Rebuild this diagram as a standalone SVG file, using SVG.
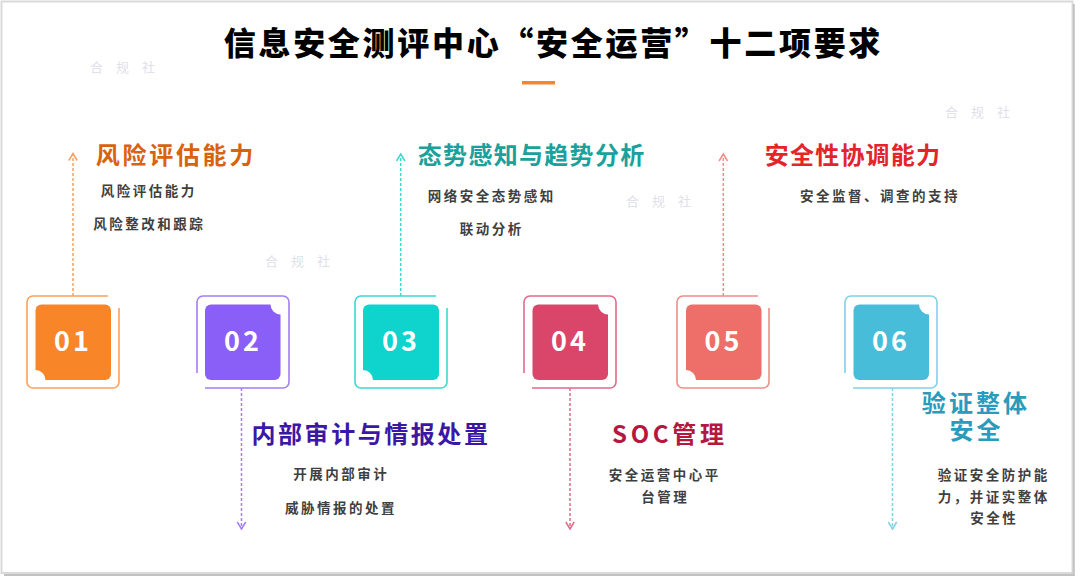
<svg xmlns="http://www.w3.org/2000/svg" width="1080" height="581" viewBox="0 0 1080 581">
<style>
text{font-family:"Noto Sans CJK SC","Noto Sans",sans-serif}
.frame{fill:none;stroke-width:1.6}
.num{font-size:27px;font-weight:700;fill:#fff;text-anchor:middle;letter-spacing:3px}
.ttl{font-size:24px;font-weight:700}
.sub{font-size:13.5px;font-weight:700;fill:#3f3f3f;text-anchor:middle;letter-spacing:2.5px}
.wm{font-size:13px;fill:#dfe0ea;letter-spacing:13px}
.arr{fill:none;stroke-width:1.5;stroke-dasharray:3 2}
.notch{fill:#fff}
</style>
<defs>
<marker id="a1" markerUnits="userSpaceOnUse" markerWidth="12" markerHeight="12" refX="8" refY="6" orient="auto" overflow="visible"><path d="M1,1.8 L8,6 L1,10.2" fill="none" stroke="#F9A15E" stroke-width="1.5"/></marker>
<marker id="a2" markerUnits="userSpaceOnUse" markerWidth="12" markerHeight="12" refX="8" refY="6" orient="auto" overflow="visible"><path d="M1,1.8 L8,6 L1,10.2" fill="none" stroke="#A47EF8" stroke-width="1.5"/></marker>
<marker id="a3" markerUnits="userSpaceOnUse" markerWidth="12" markerHeight="12" refX="8" refY="6" orient="auto" overflow="visible"><path d="M1,1.8 L8,6 L1,10.2" fill="none" stroke="#3DD8D4" stroke-width="1.5"/></marker>
<marker id="a4" markerUnits="userSpaceOnUse" markerWidth="12" markerHeight="12" refX="8" refY="6" orient="auto" overflow="visible"><path d="M1,1.8 L8,6 L1,10.2" fill="none" stroke="#E2698A" stroke-width="1.5"/></marker>
<marker id="a5" markerUnits="userSpaceOnUse" markerWidth="12" markerHeight="12" refX="8" refY="6" orient="auto" overflow="visible"><path d="M1,1.8 L8,6 L1,10.2" fill="none" stroke="#F08D88" stroke-width="1.5"/></marker>
<marker id="a6" markerUnits="userSpaceOnUse" markerWidth="12" markerHeight="12" refX="8" refY="6" orient="auto" overflow="visible"><path d="M1,1.8 L8,6 L1,10.2" fill="none" stroke="#80D0E6" stroke-width="1.5"/></marker>
<path id="fOdd" d="M81,0 H6 A6,6 0 0 0 0,6 V86 A6,6 0 0 0 6,92 H86 A6,6 0 0 0 92,86 V12"/>
<path id="fEven" d="M0,77 V6 A6,6 0 0 1 6,0 H86 A6,6 0 0 1 92,6 V86 A6,6 0 0 1 86,92 H8"/>
</defs>

<g id="card">
<rect x="1.5" y="1.5" width="1071" height="571.5" fill="#fff" stroke="#dadada" stroke-width="2"/>
<line x1="1073.8" y1="4" x2="1073.8" y2="575.5" stroke="#c2c2c2" stroke-width="2"/>
<line x1="4" y1="575" x2="1074.8" y2="575" stroke="#c2c2c2" stroke-width="2"/>
</g>

<g id="watermarks">
<text class="wm" x="90" y="72">合规社</text>
<text class="wm" x="265" y="266">合规社</text>
<text class="wm" x="626" y="206">合规社</text>
<text class="wm" x="945" y="117">合规社</text>
</g>

<g id="title">
<text x="553.4" y="55" text-anchor="middle" font-size="32" font-weight="900" fill="#000" letter-spacing="2.7">信息安全测评中心“安全运营”十二项要求</text>
<rect x="522" y="81" width="33" height="3.5" fill="#F5862B"/>
</g>

<g id="connectors">
<line class="arr" x1="73" y1="296" x2="73" y2="153.5" stroke="#F9A15E" marker-end="url(#a1)"/>
<line class="arr" x1="241.5" y1="388" x2="241.5" y2="529" stroke="#A47EF8" marker-end="url(#a2)"/>
<line class="arr" x1="400.7" y1="296" x2="400.7" y2="154" stroke="#3DD8D4" marker-end="url(#a3)"/>
<line class="arr" x1="570" y1="388" x2="570" y2="529" stroke="#E2698A" marker-end="url(#a4)"/>
<line class="arr" x1="723.3" y1="296" x2="723.3" y2="154" stroke="#F08D88" marker-end="url(#a5)"/>
<line class="arr" x1="892.5" y1="388" x2="892.5" y2="529" stroke="#80D0E6" marker-end="url(#a6)"/>
</g>

<g id="node01" transform="translate(27,296)">
<rect x="8.5" y="8.5" width="75.5" height="75.5" rx="6" fill="#F88528"/>
<circle class="notch" cx="8.5" cy="84" r="10"/>
<use href="#fOdd" class="frame" stroke="#F9A15E"/>
<text class="num" x="46" y="55">01</text>
</g>
<g id="label01">
<text class="ttl" x="95.8" y="164" fill="#D9620F" letter-spacing="2.7">风险评估能力</text>
<text class="sub" x="148.8" y="195.8">风险评估能力</text>
<text class="sub" x="149.2" y="229">风险整改和跟踪</text>
</g>

<g id="node02" transform="translate(197,296)">
<rect x="8" y="8.5" width="75.5" height="75.5" rx="6" fill="#8A5FF7"/>
<circle class="notch" cx="83.5" cy="8.5" r="10"/>
<use href="#fEven" class="frame" stroke="#A47EF8"/>
<text class="num" x="46" y="55">02</text>
</g>
<g id="label02">
<text class="ttl" x="251.5" y="442.5" fill="#3B17A6" letter-spacing="2.55">内部审计与情报处置</text>
<text class="sub" x="341.2" y="479">开展内部审计</text>
<text class="sub" x="341" y="513">威胁情报的处置</text>
</g>

<g id="node03" transform="translate(355,296)">
<rect x="8" y="8.5" width="76" height="75.5" rx="6" fill="#0FD3CD"/>
<circle class="notch" cx="8" cy="84" r="10"/>
<use href="#fOdd" class="frame" stroke="#3DD8D4"/>
<text class="num" x="46" y="55">03</text>
</g>
<g id="label03">
<text class="ttl" x="417.8" y="163.5" fill="#1AA19C" letter-spacing="1.3">态势感知与趋势分析</text>
<text class="sub" x="491.8" y="200.8">网络安全态势感知</text>
<text class="sub" x="491.8" y="234">联动分析</text>
</g>

<g id="node04" transform="translate(524,296)">
<rect x="8.5" y="8.5" width="75.5" height="75.5" rx="6" fill="#D94669"/>
<circle class="notch" cx="84" cy="8.5" r="10"/>
<use href="#fEven" class="frame" stroke="#E2698A"/>
<text class="num" x="46" y="55">04</text>
</g>
<g id="label04">
<text class="ttl" x="612" y="443" fill="#B5173F" letter-spacing="3.7">SOC管理</text>
<text class="sub" x="664.8" y="479.7">安全运营中心平</text>
<text class="sub" x="665.2" y="501.7">台管理</text>
</g>

<g id="node05" transform="translate(677,296)">
<rect x="9" y="8.5" width="75.5" height="75.5" rx="6" fill="#EE6F69"/>
<circle class="notch" cx="9" cy="84" r="10"/>
<use href="#fOdd" class="frame" stroke="#F08D88"/>
<text class="num" x="46.5" y="55">05</text>
</g>
<g id="label05">
<text class="ttl" x="764.8" y="163.5" fill="#E3252B" letter-spacing="1.2">安全性协调能力</text>
<text class="sub" x="880" y="200.8">安全监督、调查的支持</text>
</g>

<g id="node06" transform="translate(845,296)">
<rect x="8.5" y="8.5" width="75.5" height="75.5" rx="6" fill="#48BDDA"/>
<circle class="notch" cx="84" cy="8.5" r="10"/>
<use href="#fEven" class="frame" stroke="#80D0E6"/>
<text class="num" x="46" y="55">06</text>
</g>
<g id="label06">
<text class="ttl" fill="#2A9BBA" letter-spacing="3.1" text-anchor="middle"><tspan x="976" y="411.5">验证整体</tspan><tspan x="976.5" y="438.5">安全</tspan></text>
<text class="sub" x="993.8" y="480">验证安全防护能</text>
<text class="sub" x="993.8" y="501.7">力，并证实整体</text>
<text class="sub" x="994.2" y="523">安全性</text>
</g>
</svg>
